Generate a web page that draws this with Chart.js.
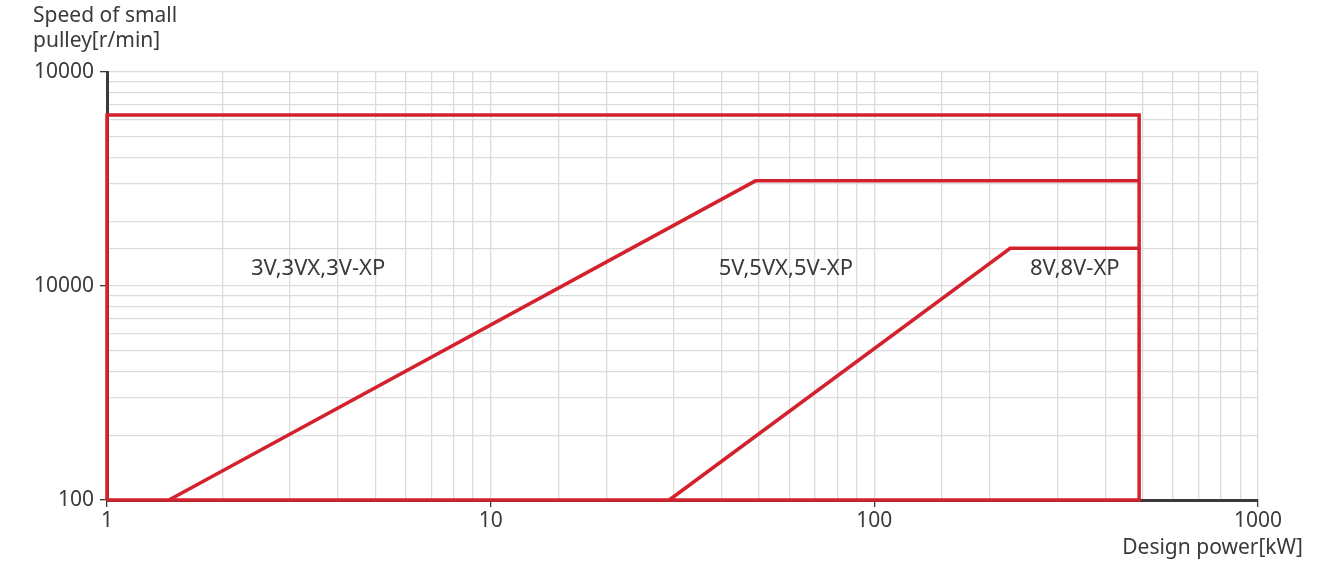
<!DOCTYPE html>
<html>
<head>
<meta charset="utf-8">
<script src="https://cdn.jsdelivr.net/npm/chart.js@4.4.1/dist/chart.umd.min.js"></script>
<style>
  html, body { margin: 0; padding: 0; background: #fff; }
  #wrap { width: 1335px; height: 561px; }
</style>
</head>
<body>
<div id="wrap"><canvas id="beltChart" width="1335" height="561"></canvas></div>
<script>
// data (design power kW, speed r/min)
const outerX = [1, 1, 490, 490, 1];
const outerY = [100, 6300, 6300, 100, 100];
const line5vX = [1.45, 49, 490];
const line5vY = [100, 3100, 3100];
const line8vX = [29.2, 226, 490];
const line8vY = [100, 1500, 1500];

const regionLabels = ["3V,3VX,3V-XP", "5V,5VX,5V-XP", "8V,8V-XP"];
const regionX = [3.55, 58.8, 333];
const regionY = [1200, 1200, 1200];

const yTickText = { 100: "100", 1000: "10000", 10000: "10000" };
const xTickText = { 1: "1", 10: "10", 100: "100", 1000: "1000" };

const RED = "#d3222e";
const FONT = "'Noto Sans', sans-serif";

function toPoints(xs, ys) {
  return xs.map((x, i) => ({ x: x, y: ys[i] }));
}

function isDecade(v) {
  const l = Math.log10(v);
  return Math.abs(l - Math.round(l)) < 1e-9;
}

// extra texts: axis titles + region names
const textPlugin = {
  id: "texts",
  afterDatasetsDraw(chart) {
    const ctx = chart.ctx;
    const xs = chart.scales.x, ys = chart.scales.y;
    ctx.save();
    ctx.fillStyle = "#3a3a3a";
    ctx.textBaseline = "middle";
    ctx.textAlign = "center";
    ctx.font = "22px " + FONT;
    regionLabels.forEach((t, i) => {
      ctx.fillText(t, xs.getPixelForValue(regionX[i]), ys.getPixelForValue(regionY[i]));
    });
    ctx.font = "21px " + FONT;
    ctx.textAlign = "left";
    ctx.fillText("Speed of small", 33, 16);
    ctx.fillText("pulley[r/min]", 33, 41);
    ctx.textAlign = "right";
    ctx.fillText("Design power[kW]", 1303, 548);
    ctx.restore();
  }
};

const lineStyle = {
  showLine: true,
  borderColor: RED,
  borderWidth: 3.5,
  pointRadius: 0,
  fill: false,
  clip: false
};

new Chart(document.getElementById("beltChart"), {
  type: "scatter",
  data: {
    datasets: [
      { ...lineStyle, data: toPoints(outerX, outerY) },
      { ...lineStyle, data: toPoints(line5vX, line5vY) },
      { ...lineStyle, data: toPoints(line8vX, line8vY) }
    ]
  },
  options: {
    responsive: false,
    animation: false,
    layout: { padding: { top: 72, right: 77, left: 0, bottom: 0 } },
    plugins: { legend: { display: false }, tooltip: { enabled: false } },
    scales: {
      x: {
        type: "logarithmic",
        min: 1,
        max: 1000,
        afterFit: (s) => { s.height = 61; },
        border: { color: "#3a3a3a", width: 3 },
        grid: {
          color: "#dcdcdc",
          lineWidth: 1.3,
          tickLength: 7,
          tickColor: (c) => (c.tick && isDecade(c.tick.value) ? "#3a3a3a" : "rgba(0,0,0,0)")
        },
        ticks: {
          autoSkip: false,
          maxRotation: 0,
          padding: 1,
          color: "#3a3a3a",
          font: { family: FONT, size: 21 },
          callback: (v) => xTickText[v] || ""
        }
      },
      y: {
        type: "logarithmic",
        min: 100,
        max: 10000,
        afterFit: (s) => { s.width = 107; },
        border: { color: "#3a3a3a", width: 3 },
        grid: {
          color: "#dcdcdc",
          lineWidth: 1.3,
          tickLength: 7,
          tickColor: (c) => (c.tick && isDecade(c.tick.value) ? "#3a3a3a" : "rgba(0,0,0,0)")
        },
        ticks: {
          autoSkip: false,
          padding: 6,
          color: "#3a3a3a",
          font: { family: FONT, size: 21 },
          callback: (v) => yTickText[v] || ""
        }
      }
    }
  },
  plugins: [textPlugin]
});
</script>
</body>
</html>
